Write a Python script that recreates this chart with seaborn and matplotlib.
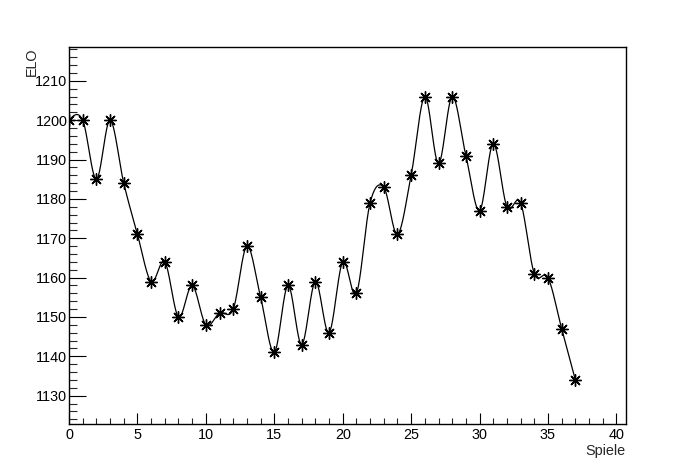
import numpy as np
import pandas as pd
import matplotlib
matplotlib.use("Agg")
import matplotlib.pyplot as plt
from matplotlib.ticker import MultipleLocator
import seaborn as sns

# ---- data ----
games = list(range(38))
elo = [1200, 1200, 1185, 1200, 1184, 1171, 1159, 1164, 1150, 1158,
       1148, 1151, 1152, 1168, 1155, 1141, 1158, 1143, 1159, 1146,
       1164, 1156, 1179, 1183, 1171, 1186, 1206, 1189, 1206, 1191,
       1177, 1194, 1178, 1179, 1161, 1160, 1147, 1134]
x_label = "Spiele"
y_label = "ELO"


def smooth_curve(x, y, n_per=30):
    """Catmull-Rom style Hermite curve through the points (drawing only)."""
    x = np.asarray(x, float)
    y = np.asarray(y, float)
    n = len(x)
    m = np.zeros(n)
    m[1:-1] = (y[2:] - y[:-2]) / (x[2:] - x[:-2])
    m[0] = 1.5 * (y[1] - y[0]) / (x[1] - x[0]) - 0.5 * m[1]
    m[-1] = 1.5 * (y[-1] - y[-2]) / (x[-1] - x[-2]) - 0.5 * m[-2]
    xs, ys = [], []
    for i in range(n - 1):
        h = x[i + 1] - x[i]
        t = np.linspace(0, 1, n_per, endpoint=(i == n - 2))
        h00 = 2 * t**3 - 3 * t**2 + 1
        h10 = t**3 - 2 * t**2 + t
        h01 = -2 * t**3 + 3 * t**2
        h11 = t**3 - t**2
        xs.append(x[i] + t * h)
        ys.append(h00 * y[i] + h10 * h * m[i] + h01 * y[i + 1] + h11 * h * m[i + 1])
    return np.concatenate(xs), np.concatenate(ys)


sns.set_style("white")
plt.rcParams["font.family"] = ["Liberation Sans", "DejaVu Sans"]

FS = 10.4

fig = plt.figure(figsize=(6.96, 4.72), dpi=100)
ax = fig.add_axes([69 / 696, 1 - 424 / 472, (626 - 69) / 696, (424 - 47) / 472])

sx, sy = smooth_curve(games, elo)
curve = pd.DataFrame({"x": sx, "y": sy})
pts = pd.DataFrame({"x": games, "y": elo})

sns.lineplot(data=curve, x="x", y="y", ax=ax, color="black", linewidth=0.9,
             sort=False, estimator=None)
sns.scatterplot(data=pts, x="x", y="y", ax=ax, marker=(8, 2, 0), s=70,
                color="black", linewidth=1.0, edgecolor="black", zorder=3)

ax.set_xlim(0, 40.7)
ax.set_ylim(1122.8, 1218.6)
ax.xaxis.set_major_locator(MultipleLocator(5))
ax.xaxis.set_minor_locator(MultipleLocator(1))
ax.yaxis.set_major_locator(MultipleLocator(10))
ax.yaxis.set_minor_locator(MultipleLocator(2))
ax.tick_params(axis="x", which="major", direction="in", length=8.1, width=0.8,
               pad=3.0, labelsize=FS, top=False, bottom=True, colors="black")
ax.tick_params(axis="x", which="minor", direction="in", length=4.0, width=0.8,
               top=False, bottom=True)
ax.tick_params(axis="y", which="major", direction="in", length=12, width=0.8,
               pad=1.2, labelsize=FS, left=True, right=False, colors="black")
ax.tick_params(axis="y", which="minor", direction="in", length=6, width=0.8,
               left=True, right=False)
for s in ax.spines.values():
    s.set_visible(True)
    s.set_color("black")
    s.set_linewidth(1.0)
ax.set_xlabel("")
ax.set_ylabel("")
ax.grid(False)

fig.text(31.5 / 696, 1 - 47 / 472, y_label, rotation=90, ha="center", va="top",
         fontsize=FS)
fig.text(625 / 696, 1 - 451 / 472, x_label, ha="right", va="center",
         fontsize=FS)

fig.savefig("out.png", dpi=100, facecolor="white")
